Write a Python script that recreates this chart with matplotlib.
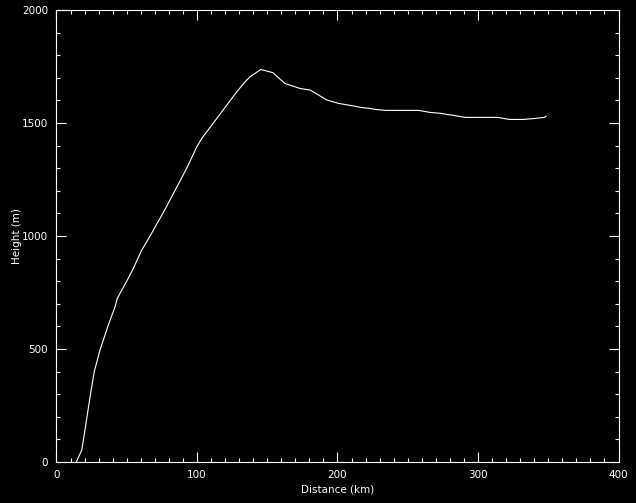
import matplotlib
matplotlib.use("Agg")
import matplotlib.pyplot as plt
from matplotlib.ticker import MultipleLocator

# profile
distance_km = [14.1, 18.0, 20.3, 23.9, 26.9, 31.0, 36.9, 41.7, 43.3, 45.2, 50.4, 54.7,
               60.7, 66.6, 77.0, 92.7, 99.9, 103.4, 128.3, 134.3, 137.8, 145.4, 154.0,
               158.0, 162.7, 173.4, 180.6, 192.4, 200.7, 211.9, 216.9, 222.6, 227.6,
               234.0, 257.7, 266.0, 273.6, 277.9, 282.6, 286.2, 291.0, 314.0, 322.5,
               332.5, 340.0, 347.2, 348.4]
height_m = [0, 53, 142, 289, 400, 496, 606, 687, 724, 746, 805, 857,
            938, 1000, 1115, 1300, 1395, 1432, 1638, 1683, 1705, 1737, 1723,
            1700, 1675, 1653, 1646, 1602, 1587, 1575, 1569, 1565, 1560,
            1556, 1556, 1547, 1543, 1538, 1534, 1530, 1525, 1525, 1516,
            1516, 1520, 1525, 1530]

fig = plt.figure(figsize=(6.36, 5.03), dpi=100, facecolor="black")
ax = fig.add_axes([0.0888, 0.0815, 0.8837, 0.8985], facecolor="black")

ax.plot(distance_km, height_m, color="white", linewidth=0.8)

ax.set_xlim(0, 400)
ax.set_ylim(0, 2000)
ax.xaxis.set_major_locator(MultipleLocator(100))
ax.xaxis.set_minor_locator(MultipleLocator(10))
ax.yaxis.set_major_locator(MultipleLocator(500))
ax.yaxis.set_minor_locator(MultipleLocator(100))

for s in ax.spines.values():
    s.set_color("white")
    s.set_linewidth(0.8)

ax.tick_params(which="both", direction="in", colors="white", top=True, right=True,
               width=0.8, labelsize=7.5, labelcolor="white")
ax.tick_params(which="major", length=7, pad=6)
ax.tick_params(which="minor", length=3)

ax.set_xlabel("Distance (km)", color="white", fontsize=7.5, labelpad=3)
ax.set_ylabel("Height (m)", color="white", fontsize=7.5, labelpad=0)

fig.savefig("out.png", dpi=100, facecolor="black")
